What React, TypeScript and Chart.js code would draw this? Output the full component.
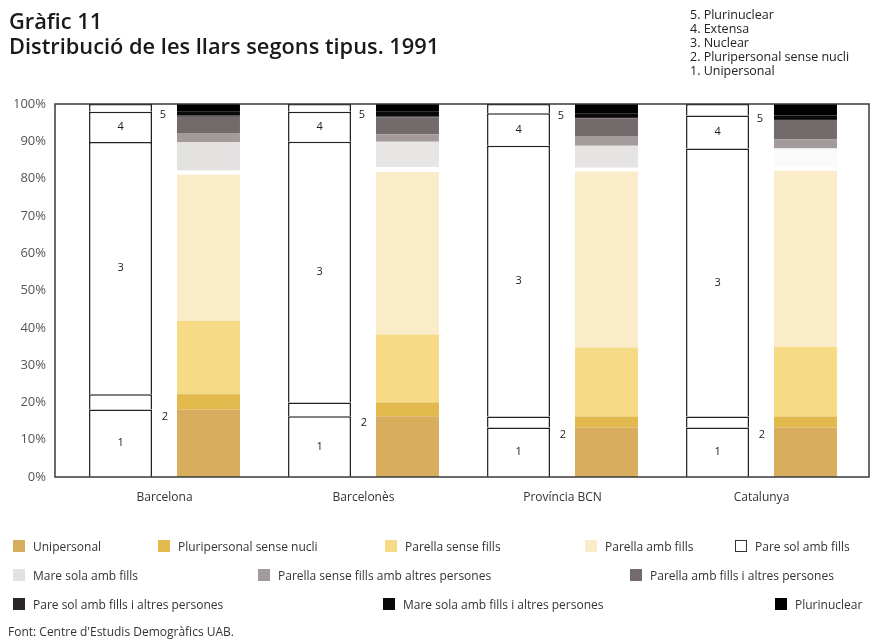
import React, { useEffect, useRef } from 'react';
import { Chart, registerables } from 'chart.js';

Chart.register(...registerables);

// ---------- DATA ----------
const categories = ['Barcelona', 'Barcelonès', 'Província BCN', 'Catalunya'];

// Summary (white, outlined) bar: household types 1-5 (%)
const summaryNumbers = ['1', '2', '3', '4', '5'];
const summaryNames = ['Unipersonal', 'Pluripersonal sense nucli', 'Nuclear', 'Extensa', 'Plurinuclear'];
const sumUnipersonal = [18.1, 16.3, 13.3, 13.3];
const sumPluripersonal = [4.1, 3.7, 2.9, 2.9];
const sumNuclear = [67.6, 69.9, 72.6, 71.9];
const sumExtensa = [8.1, 8.0, 8.7, 8.8];
const sumPlurinuclear = [2.1, 2.1, 2.5, 3.1];

// Detailed (coloured) bar (%)
const unipersonal = [18.1, 16.3, 13.3, 13.3];
const pluripersonal = [4.1, 3.7, 2.9, 2.9];
const parellaSenseFills = [19.6, 18.2, 18.5, 18.7];
const parellaAmbFills = [39.2, 43.6, 47.2, 47.2];
const pareSolAmbFills = [1.2, 1.3, 1.0, 1.0];
const mareSolaAmbFills = [7.6, 6.8, 5.9, 5.0];
const parellaSenseFillsAltres = [2.4, 2.0, 2.6, 2.4];
const parellaAmbFillsAltres = [4.4, 4.5, 4.8, 5.2];
const pareSolAltres = [0.3, 0.3, 0.3, 0.3];
const mareSolaAltres = [1.0, 1.2, 1.0, 0.9];
const plurinuclear = [2.1, 2.1, 2.5, 3.1];

const detailNames = [
  'Unipersonal',
  'Pluripersonal sense nucli',
  'Parella sense fills',
  'Parella amb fills',
  'Pare sol amb fills',
  'Mare sola amb fills',
  'Parella sense fills amb altres persones',
  'Parella amb fills i altres persones',
  'Pare sol amb fills i altres persones',
  'Mare sola amb fills i altres persones',
  'Plurinuclear',
];
const detailSeries = [
  unipersonal,
  pluripersonal,
  parellaSenseFills,
  parellaAmbFills,
  pareSolAmbFills,
  mareSolaAmbFills,
  parellaSenseFillsAltres,
  parellaAmbFillsAltres,
  pareSolAltres,
  mareSolaAltres,
  plurinuclear,
];

const yTickStep = 10;
const sourceText = "Font: Centre d'Estudis Demogràfics UAB.";
const titleLine1 = 'Gràfic 11';
const titleLine2 = 'Distribució de les llars segons tipus. 1991';

// ---------- STYLES ----------
const detailColors = [
  '#d8ae5e',
  '#e2b94c',
  '#f6da86',
  '#faecc8',
  '#ffffff',
  '#e4e1e1',
  '#a39b9b',
  '#736b6b',
  '#2b2626',
  '#0a0a0a',
  '#000000',
];
// per-bar shading of the "Mare sola amb fills" band as printed
const mareSolaBarColors = ['#e4e1e1', '#e8e5e5', '#e6e3e3', '#fafafa'];

// legend layout (left px, row)
const legendLayout = [
  { x: 13, row: 0 },
  { x: 158, row: 0 },
  { x: 385, row: 0 },
  { x: 585, row: 0 },
  { x: 735, row: 0 },
  { x: 13, row: 1 },
  { x: 258, row: 1 },
  { x: 630, row: 1 },
  { x: 13, row: 2 },
  { x: 383, row: 2 },
  { x: 775, row: 2 },
];
const legendRowY = [546, 575, 604];

const FONT = '"Open Sans", "Noto Sans", sans-serif';

const framePlugin = {
  id: 'frame',
  afterDatasetsDraw(chart: any) {
    const { ctx, chartArea } = chart;
    ctx.save();
    ctx.strokeStyle = '#3a3a3a';
    ctx.lineWidth = 1.5;
    ctx.strokeRect(chartArea.left - 10, chartArea.top, chartArea.right - chartArea.left + 18, chartArea.bottom - chartArea.top);
    ctx.restore();
  },
};

const numbersPlugin = {
  id: 'numbers',
  afterDatasetsDraw(chart: any) {
    const { ctx } = chart;
    ctx.save();
    ctx.fillStyle = '#222';
    ctx.font = `11px ${FONT}`;
    ctx.textAlign = 'center';
    ctx.textBaseline = 'middle';
    for (let d = 0; d < 5; d++) {
      const meta = chart.getDatasetMeta(d);
      meta.data.forEach((el: any) => {
        const p = el.getProps(['x', 'y', 'base', 'width'], true);
        let tx = p.x;
        let ty = (p.y + p.base) / 2;
        if (d === 1) {
          tx = p.x + p.width / 2 + 13;
          ty = p.base + 7;
        } else if (d === 4) {
          tx = p.x + p.width / 2 + 11;
          ty = p.base + 3;
        }
        ctx.fillText(summaryNumbers[d], tx, ty);
      });
    }
    ctx.restore();
  },
};

export default function App() {
  const ref = useRef<HTMLCanvasElement | null>(null);

  useEffect(() => {
    if (!ref.current) return;
    const summarySeries = [sumUnipersonal, sumPluripersonal, sumNuclear, sumExtensa, sumPlurinuclear];
    const summaryDatasets = summarySeries.map((data, i) => ({
      label: summaryNames[i],
      data,
      stack: 'summary',
      backgroundColor: '#ffffff',
      borderColor: '#222222',
      borderWidth: 1.5,
      borderSkipped: 'start',
    }));
    const detailDatasets = detailSeries.map((data, i) => ({
      label: detailNames[i],
      data,
      stack: 'detail',
      backgroundColor: i === 5 ? mareSolaBarColors : detailColors[i],
      borderWidth: 0,
    }));

    const chart = new Chart(ref.current, {
      type: 'bar',
      data: { labels: categories, datasets: [...summaryDatasets, ...detailDatasets] as any },
      options: {
        responsive: false,
        maintainAspectRatio: false,
        animation: false,
        layout: { padding: { top: 104, left: 15, right: 13, bottom: 124 } },
        datasets: { bar: { categoryPercentage: 0.884, barPercentage: 0.716 } },
        plugins: { legend: { display: false }, tooltip: { enabled: false } },
        scales: {
          x: {
            stacked: true,
            grid: { display: false, drawTicks: false },
            border: { display: false },
            ticks: { font: { family: FONT, size: 12 }, color: '#333', padding: 13, maxRotation: 0 },
            afterFit: (s: any) => {
              s.height = 40;
            },
          },
          y: {
            stacked: true,
            min: 0,
            max: 100,
            grid: { display: false, drawTicks: false },
            border: { display: false },
            ticks: {
              stepSize: yTickStep,
              callback: (v: any) => `${v}%`,
              font: { family: FONT, size: 13 },
              color: '#555',
              padding: 19,
            },
            afterFit: (s: any) => {
              s.width = 50;
            },
          },
        },
      } as any,
      plugins: [framePlugin, numbersPlugin],
    });
    return () => chart.destroy();
  }, []);

  return (
    <div
      style={{
        position: 'fixed',
        left: 0,
        top: 0,
        width: 874,
        height: 641,
        background: '#fff',
        overflow: 'hidden',
        fontFamily: FONT,
        color: '#222',
      }}
    >
      <canvas ref={ref} width={874} height={641} style={{ position: 'absolute', left: 0, top: 0, width: 874, height: 641 }} />
      <div style={{ position: 'absolute', left: 9, top: 8, fontSize: 21.8, fontWeight: 600, lineHeight: '25px', color: '#1a1a1a', whiteSpace: 'nowrap' }}>
        <div>{titleLine1}</div>
        <div>{titleLine2}</div>
      </div>
      <div style={{ position: 'absolute', left: 690, top: 8, fontSize: 12.5, lineHeight: '14px', color: '#222', whiteSpace: 'nowrap' }}>
        {summaryNames
          .map((n, i) => `${summaryNumbers[i]}. ${n}`)
          .reverse()
          .map((t) => (
            <div key={t}>{t}</div>
          ))}
      </div>
      {detailNames.map((name, i) => {
        const pos = legendLayout[i];
        const cy = legendRowY[pos.row];
        return (
          <div key={name} style={{ position: 'absolute', left: pos.x, top: cy - 9, height: 18, display: 'flex', alignItems: 'center', whiteSpace: 'nowrap' }}>
            <span
              style={{
                display: 'inline-block',
                width: 12,
                height: 12,
                boxSizing: 'border-box',
                background: detailColors[i],
                border: detailColors[i] === '#ffffff' ? '1px solid #333' : 'none',
                marginRight: 8,
              }}
            />
            <span style={{ fontSize: 12, color: '#333' }}>{name}</span>
          </div>
        );
      })}
      <div style={{ position: 'absolute', left: 8, top: 623, fontSize: 12, lineHeight: '18px', color: '#333', whiteSpace: 'nowrap' }}>{sourceText}</div>
    </div>
  );
}
